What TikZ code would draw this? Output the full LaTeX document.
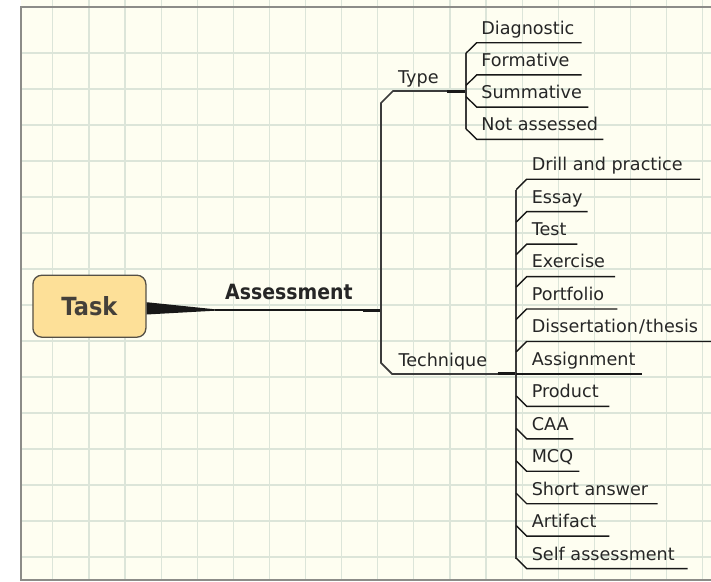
\documentclass[tikz,border=0pt]{standalone}
\usepackage{fontspec}
\setmainfont{DejaVu Sans}
\newfontfamily\headfont{DejaVu Sans}[FakeStretch=0.9]
\usetikzlibrary{calc}

\definecolor{paper}{RGB}{254,254,241}
\definecolor{gridcol}{RGB}{220,229,217}
\definecolor{framecol}{RGB}{140,140,136}
\definecolor{taskfill}{RGB}{253,224,152}
\definecolor{taskline}{RGB}{85,80,70}
\definecolor{tasktext}{RGB}{68,64,58}
\definecolor{inkcol}{RGB}{24,24,24}
\definecolor{textcol}{RGB}{38,38,38}

\tikzset{
  gridline/.style={draw=gridcol, line width=1.2pt},
  frameline/.style={draw=framecol, line width=2pt},
  taskbox/.style={draw=taskline, fill=taskfill, line width=1.3pt, rounded corners=9pt,
    minimum width=113pt, minimum height=62pt, inner sep=0pt,
    font=\headfont\bfseries\fontsize{25}{28}\selectfont, text=tasktext},
  headlabel/.style={anchor=base west, inner sep=0pt,
    font=\headfont\bfseries\fontsize{21}{24}\selectfont, text=textcol},
  leaf/.style={anchor=base west, inner sep=0pt,
    font=\fontsize{17.6}{20}\selectfont, text=textcol},
  branch/.style={draw=inkcol, line width=1.4pt, line join=miter},
  trunk/.style={draw=inkcol!85!white, line width=1.7pt, line join=miter},
  stub/.style={draw=inkcol, line width=3pt},
}

\begin{document}
\begin{tikzpicture}[x=1pt,y=-1pt]
\useasboundingbox (0,0) rectangle (711,581);

% paper with its grid and frame
\fill[white] (0,0) rectangle (711,581);
\fill[paper] (21,0) rectangle (711,580);
\foreach \i in {0,...,18}
  \draw[gridline] ({52.8+36.1*\i},0) -- ({52.8+36.1*\i},579);
\foreach \j in {0,...,14}
  \draw[gridline] (21,{53+36*\j}) -- (711,{53+36*\j});
\draw[frameline] (711,7) -- (21,7) -- (21,579.5) -- (711,579.5);

% central topic and its tapered link
\node[taskbox] (task) at (89.4,306.2) {Task};
\coordinate (wtip) at (215,310);
\fill[inkcol] ($(task.east)+(0,-4)$) -- ($(wtip)+(0,-0.7)$) -- ($(wtip)+(0,0.7)$) -- ($(task.east)+(0,8.3)$) -- cycle;

% main branch
\node[headlabel] (assess) at (225,299.6) {Assessment};
\coordinate (ajoin) at (381,310);
\draw[branch] (wtip) -- (ajoin);
\draw[stub] (363,310) -- (ajoin);

% sub-branches Type and Technique
\coordinate (typeL) at (393,91);
\coordinate (typeJ) at (466,91);
\coordinate (techL) at (392,373.9);
\coordinate (techJ) at (516.2,373.9);
\node[leaf] (type) at (398,83) {Type};
\node[leaf] (tech) at (398.3,366) {Technique};
\draw[trunk] (typeJ) -- (typeL) -- (381,103) -- (381,362.9) -- (techL) -- (techJ);
\draw[stub] (447,91) -- (typeJ);
\draw[stub] (497.7,373.9) -- (techJ);

% children of Type
\draw[trunk] (466,53.2) -- (466,128.8);
\foreach \k/\lab/\xe in
  {0/Diagnostic/581.7, 1/Formative/581.7, 2/Summative/588.3, 3/{Not assessed}/603.3}{
  \pgfmathsetmacro{\yy}{42.7+32.2*\k}
  \pgfmathsetmacro{\yt}{\k<2 ? \yy+10.5 : \yy-10.5}
  \coordinate (ty\k s) at (476.7,\yy);
  \coordinate (ty\k e) at (\xe,\yy);
  \node[leaf] (ty\k) at (481.2,{\yy-8.6}) {\lab};
  \draw[branch] (466,\yt) -- (ty\k s) -- (ty\k e);
}

% children of Technique
\draw[trunk] (516.2,189.7) -- (516.2,558.8);
\foreach \k/\lab/\xe in
  {0/{Drill and practice}/700, 1/Essay/587.7, 2/Test/577.3, 3/Exercise/615,
   4/Portfolio/617.3, 5/{Dissertation\kern1pt/\kern1pt thesis}/711, 6/Assignment/641.7,
   7/Product/609.3, 8/CAA/573.3, 9/MCQ/579.3, 10/{Short answer}/657.7,
   11/Artifact/609.3, 12/{Self assessment}/687.7}{
  \pgfmathsetmacro{\yy}{179.2+32.45*\k}
  \pgfmathsetmacro{\yt}{\k<6 ? \yy+10.5 : (\k>6 ? \yy-10.5 : \yy)}
  \coordinate (tq\k s) at (526.7,\yy);
  \coordinate (tq\k e) at (\xe,\yy);
  \node[leaf] (tq\k) at (531.6,{\yy-8.6}) {\lab};
  \draw[branch] (516.2,\yt) -- (tq\k s) -- (tq\k e);
}
\end{tikzpicture}
\end{document}
